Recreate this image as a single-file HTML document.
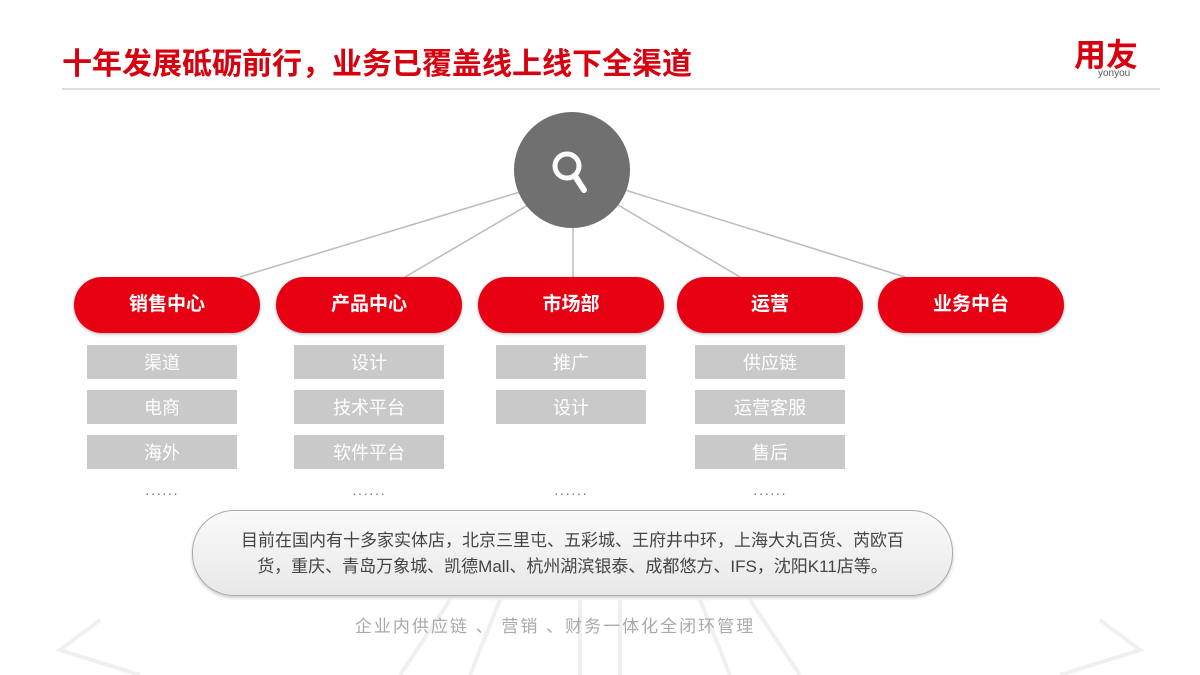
<!DOCTYPE html>
<html><head><meta charset="utf-8"><style>
body{margin:0;width:1200px;height:675px;background:#fff;position:relative;overflow:hidden;font-family:"Liberation Sans","Noto Sans CJK SC",sans-serif}
.a{position:absolute}
.title{left:62px;top:39px;font-size:30px;font-weight:bold;color:#d7000f;letter-spacing:0px}
.pill{position:absolute;top:277px;width:186px;height:56px;border-radius:28px;background:#e60012;color:#fff;font-weight:bold;font-size:19px;text-align:center;line-height:56px;box-shadow:0 1px 3px rgba(0,0,0,.3)}
.box{position:absolute;width:150px;height:34px;background:#c9c9c9;color:#fff;font-size:18px;text-align:center;line-height:36px}
.dots{position:absolute;top:485px;width:150px;text-align:center;color:#777;font-size:14px;letter-spacing:1px}
</style></head><body>
<div class="a title">十年发展砥砺前行，业务已覆盖线上线下全渠道</div>
<div class="a" style="left:1074px;top:30px;font-size:32px;font-weight:bold;color:#d7000f">用友</div>
<div class="a" style="left:1098px;top:68px;font-size:10px;color:#555">yonyou</div>
<div class="a" style="left:62px;top:88px;width:1098px;height:2px;background:#ddd"></div>
<svg class="a" style="left:0;top:0" width="1200" height="675">
<g stroke="#bbb" stroke-width="1.5" fill="none">
<line x1="520" y1="192" x2="240" y2="277"/>
<line x1="528" y1="205" x2="405" y2="277"/>
<line x1="573" y1="225" x2="573" y2="277"/>
<line x1="618" y1="205" x2="740" y2="277"/>
<line x1="625" y1="190" x2="905" y2="277"/>
</g>
<g stroke="#f0f0f0" stroke-width="4" fill="none">
<line x1="450" y1="600" x2="400" y2="675"/><line x1="500" y1="600" x2="470" y2="675"/>
<line x1="700" y1="600" x2="730" y2="675"/><line x1="750" y1="600" x2="800" y2="675"/>
<line x1="580" y1="600" x2="580" y2="675"/><line x1="620" y1="600" x2="620" y2="675"/>
<polyline points="100,620 60,650 140,675"/><polyline points="1100,620 1140,650 1060,675"/>
</g>
<circle cx="572" cy="170" r="58" fill="#707070"/>
<circle cx="567" cy="166" r="12" fill="none" stroke="#fff" stroke-width="5"/>
<line x1="575" y1="176" x2="584" y2="190" stroke="#fff" stroke-width="6" stroke-linecap="round"/>
</svg>
<div class="pill" style="left:74px">销售中心</div>
<div class="pill" style="left:276px">产品中心</div>
<div class="pill" style="left:478px">市场部</div>
<div class="pill" style="left:677px">运营</div>
<div class="pill" style="left:878px">业务中台</div>
<div class="box" style="left:87px;top:345px">渠道</div>
<div class="box" style="left:87px;top:390px">电商</div>
<div class="box" style="left:87px;top:435px">海外</div>
<div class="dots" style="left:87px">······</div>
<div class="box" style="left:294px;top:345px">设计</div>
<div class="box" style="left:294px;top:390px">技术平台</div>
<div class="box" style="left:294px;top:435px">软件平台</div>
<div class="dots" style="left:294px">······</div>
<div class="box" style="left:496px;top:345px">推广</div>
<div class="box" style="left:496px;top:390px">设计</div>
<div class="dots" style="left:496px">······</div>
<div class="box" style="left:695px;top:345px">供应链</div>
<div class="box" style="left:695px;top:390px">运营客服</div>
<div class="box" style="left:695px;top:435px">售后</div>
<div class="dots" style="left:695px">······</div>
<div class="a" style="left:192px;top:510px;width:759px;height:84px;border:1px solid #aaa;border-radius:42px;background:linear-gradient(#fafafa,#e8e8e8);box-shadow:0 2px 3px rgba(0,0,0,.2)"></div>
<div class="a" style="left:200px;top:528px;width:745px;text-align:center;font-size:17px;line-height:26px;color:#444">目前在国内有十多家实体店，北京三里屯、五彩城、王府井中环，上海大丸百货、芮欧百<br>货，重庆、青岛万象城、凯德Mall、杭州湖滨银泰、成都悠方、IFS，沈阳K11店等。</div>
<div class="a" style="left:300px;top:612px;width:510px;text-align:center;font-size:17px;color:#aaa;letter-spacing:2px">企业内供应链 、 营销 、财务一体化全闭环管理</div>
</body></html>
